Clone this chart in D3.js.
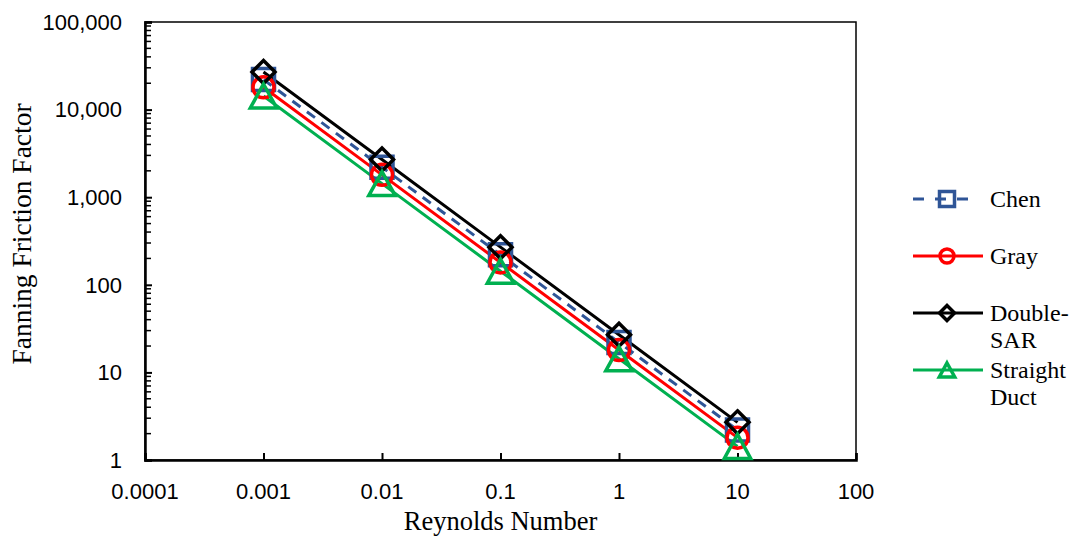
<!DOCTYPE html>
<html>
<head>
<meta charset="utf-8">
<script src="https://cdn.jsdelivr.net/npm/d3@7"></script>
<style>
  body { margin: 0; background: #fff; }
  svg { display: block; }
</style>
</head>
<body>
<svg id="chart"></svg>
<script>
// data
const reynolds = [0.001, 0.01, 0.1, 1, 10];
const chen = [22000, 2200, 220, 22, 2.2];
const gray = [18000, 1800, 180, 18, 1.8];
const doubleSar = [26900, 2690, 269, 26.9, 2.69];
const straightDuct = [14300, 1430, 143, 14.3, 1.43];

const xTicks = [0.0001, 0.001, 0.01, 0.1, 1, 10, 100];
const xTickLabels = ["0.0001", "0.001", "0.01", "0.1", "1", "10", "100"];
const yTicks = [1, 10, 100, 1000, 10000, 100000];

const seriesNames = ["Chen", "Gray", "Double-SAR", "Straight Duct"];

function drawChart(svg_id, width, height) {
    const svg = d3.select(svg_id)
        .attr("width", width)
        .attr("height", height)
        .attr("viewBox", [0, 0, width, height]);

    const left = 145, right = 856, top = 22, bottom = 460;

    // create x and y scale
    const x_scale = d3.scaleLog().domain([0.0001, 100]).range([left, right]);
    const y_scale = d3.scaleLog().domain([1, 100000]).range([bottom, top]);

    // plot frame
    svg.append("rect")
        .attr("x", left).attr("y", top)
        .attr("width", right - left).attr("height", bottom - top)
        .attr("fill", "none").attr("stroke", "black").attr("stroke-width", 1.5);

    // y axis, ticks pointing inside
    const gY = svg.append("g")
        .attr("transform", `translate(${left},0)`)
        .call(d3.axisRight(y_scale).tickValues(yTicks).tickSize(7).tickFormat(""));
    gY.select(".domain").attr("stroke-width", 2.5);
    gY.selectAll(".tick line").attr("stroke-width", 2);

    // y minor ticks
    const minor = [];
    yTicks.slice(0, -1).forEach(d => {
        for (let k = 2; k < 10; k++) minor.push(d * k);
    });
    svg.append("g").selectAll("line")
        .data(minor)
        .join("line")
        .attr("x1", left).attr("x2", left + 6)
        .attr("y1", d => y_scale(d)).attr("y2", d => y_scale(d))
        .attr("stroke", "black").attr("stroke-width", 1.5);

    // y tick labels
    svg.append("g").selectAll("text")
        .data(yTicks)
        .join("text")
        .attr("x", 122)
        .attr("y", d => y_scale(d))
        .attr("dy", "0.35em")
        .attr("text-anchor", "end")
        .style("font-family", "Liberation Sans, Arial, sans-serif")
        .style("font-size", "22px")
        .text(d => d3.format(",")(d));

    // x axis, ticks pointing inside
    const gX = svg.append("g")
        .attr("transform", `translate(0,${bottom})`)
        .call(d3.axisTop(x_scale).tickValues(xTicks).tickSize(7).tickFormat(""));
    gX.select(".domain").attr("stroke-width", 2.5);
    gX.selectAll(".tick line").attr("stroke-width", 2);

    svg.append("g").selectAll("text")
        .data(xTicks)
        .join("text")
        .attr("x", d => x_scale(d))
        .attr("y", 499)
        .attr("text-anchor", "middle")
        .style("font-family", "Liberation Sans, Arial, sans-serif")
        .style("font-size", "22px")
        .text((d, i) => xTickLabels[i]);

    // axis titles
    svg.append("text")
        .attr("x", (left + right) / 2)
        .attr("y", 530)
        .attr("text-anchor", "middle")
        .style("font-family", "Liberation Serif, Times New Roman, serif")
        .style("font-size", "26.5px")
        .text("Reynolds Number");

    svg.append("text")
        .attr("transform", "translate(31,234) rotate(-90)")
        .attr("text-anchor", "middle")
        .style("font-family", "Liberation Serif, Times New Roman, serif")
        .style("font-size", "27.5px")
        .text("Fanning Friction Factor");

    // marker shapes
    const shapes = {
        square: s => `M${-s / 2},${-s / 2}h${s}v${s}h${-s}Z`,
        circle: s => `M${s / 2},0A${s / 2},${s / 2} 0 1,1 ${-s / 2},0A${s / 2},${s / 2} 0 1,1 ${s / 2},0Z`,
        diamond: s => `M0,${-s / 2}L${s / 2},0L0,${s / 2}L${-s / 2},0Z`,
        triangle: s => `M0,${-s / 2}L${s * 0.55},${s / 2}L${-s * 0.55},${s / 2}Z`
    };

    const series = [
        { name: "Chen", values: chen, color: "#2F5597", dash: "10,8", shape: "square", size: 22, legendSize: 15 },
        { name: "Gray", values: gray, color: "#FF0000", dash: null, shape: "circle", size: 21, legendSize: 14 },
        { name: "Double-SAR", values: doubleSar, color: "#000000", dash: null, shape: "diamond", size: 23, legendSize: 15 },
        { name: "Straight Duct", values: straightDuct, color: "#00B050", dash: null, shape: "triangle", size: 24, legendSize: 14 }
    ];

    const line = d3.line()
        .x((d, i) => x_scale(reynolds[i]))
        .y(d => y_scale(d));

    series.forEach(s => {
        svg.append("path")
            .attr("d", line(s.values))
            .attr("fill", "none")
            .attr("stroke", s.color)
            .attr("stroke-width", 3)
            .attr("stroke-dasharray", s.dash);
    });

    series.forEach(s => {
        svg.append("g").selectAll("path")
            .data(s.values)
            .join("path")
            .attr("transform", (d, i) => `translate(${x_scale(reynolds[i])},${y_scale(d)})`)
            .attr("d", shapes[s.shape](s.size))
            .attr("fill", "none")
            .attr("stroke", s.color)
            .attr("stroke-width", 3.5);
    });

    // legend
    const legendY = [199, 256, 313, 370];
    const legendLines = [["Chen"], ["Gray"], ["Double-", "SAR"], ["Straight", "Duct"]];
    series.forEach((s, i) => {
        const item = svg.append("g").attr("transform", `translate(0,${legendY[i]})`);
        item.append("line")
            .attr("x1", 913).attr("x2", s.dash ? 970 : 983)
            .attr("stroke", s.color).attr("stroke-width", 3)
            .attr("stroke-dasharray", s.dash ? "11,11" : null);
        item.append("path")
            .attr("transform", "translate(947,0)")
            .attr("d", shapes[s.shape](s.legendSize))
            .attr("fill", "none").attr("stroke", s.color).attr("stroke-width", 3.5);
        item.append("text")
            .attr("x", 990)
            .attr("y", 8)
            .style("font-family", "Liberation Serif, Times New Roman, serif")
            .style("font-size", "24px")
            .selectAll("tspan")
            .data(legendLines[i])
            .join("tspan")
            .attr("x", 990)
            .attr("dy", (d, j) => j === 0 ? 0 : 27)
            .text(d => d);
    });
}

drawChart("#chart", 1072, 539);
</script>
</body>
</html>
